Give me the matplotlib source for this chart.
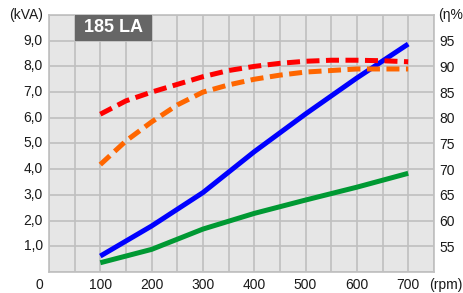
import matplotlib
matplotlib.use("Agg")
import matplotlib.pyplot as plt
from matplotlib.patches import Rectangle

# Data
rpm = [100, 200, 300, 400, 500, 600, 700]
kva_blue = [0.62, 1.79, 3.09, 4.68, 6.15, 7.55, 8.87]
kva_green = [0.36, 0.88, 1.67, 2.28, 2.80, 3.30, 3.84]

rpm_eff = [100, 150, 200, 250, 300, 350, 400, 450, 500, 550, 600, 650, 700]
eff_red = [80.7, 83.3, 85.0, 86.5, 88.0, 89.2, 90.0, 90.6, 91.0, 91.2, 91.2, 91.1, 90.9]
eff_orange = [70.9, 75.5, 79.2, 82.5, 85.0, 86.4, 87.5, 88.3, 88.9, 89.2, 89.5, 89.5, 89.5]

x_ticks = [100, 200, 300, 400, 500, 600, 700]
y_ticks = [1, 2, 3, 4, 5, 6, 7, 8, 9]
y_labels = ["1,0", "2,0", "3,0", "4,0", "5,0", "6,0", "7,0", "8,0", "9,0"]
eff_ticks = [55, 60, 65, 70, 75, 80, 85, 90, 95]

plt.rcParams['font.family'] = ['Liberation Sans', 'DejaVu Sans']

fig = plt.figure(figsize=(4.64, 2.93), dpi=100)
ax = fig.add_axes([0.1056, 0.0717, 0.935 - 0.1056, 0.9488 - 0.0717])
ax.set_facecolor('#e6e6e6')
ax.set_xlim(0, 750)
ax.set_ylim(0, 10)
ax.set_xticks(range(0, 751, 50), minor=False)
ax.set_yticks(range(0, 11))
ax.grid(True, color='#bfbfbf', linewidth=1.2)
ax.set_axisbelow(True)
ax.tick_params(length=0, labelbottom=False, labelleft=False)
for s in ax.spines.values():
    s.set_color('#bfbfbf')
    s.set_linewidth(1.2)

txt = '#1a1a1a'
for x in x_ticks:
    ax.text(x, -0.5, str(x), ha='center', va='center', fontsize=10, color=txt)
for y, l in zip(y_ticks, y_labels):
    ax.text(-12, y, l, ha='right', va='center', fontsize=10, color=txt)
ax.text(-19, -0.5, "0", ha='center', va='center', fontsize=10, color=txt)
ax.text(-12, 10.0, "(kVA)", ha='right', va='center', fontsize=10, color=txt)
ax.text(741, -0.5, "(rpm)", ha='left', va='center', fontsize=10, color=txt, clip_on=False)

ax.add_patch(Rectangle((50, 9), 150, 1, facecolor='#666666', edgecolor='none', zorder=3))
ax.text(125, 9.5, "185 LA", ha='center', va='center', fontsize=13, fontweight='bold',
        color='white', zorder=4)

ax.plot(rpm, kva_blue, color='#0000ff', linewidth=3.6, solid_capstyle='butt', zorder=5)
ax.plot(rpm, kva_green, color='#009933', linewidth=3.6, solid_capstyle='butt', zorder=5)

ax2 = ax.twinx()
ax2.set_ylim(50, 100)
ax2.set_yticks(eff_ticks)
ax2.tick_params(length=0, labelsize=10, labelcolor=txt, pad=4)
for s in ax2.spines.values():
    s.set_visible(False)
ax2.text(1.01, 1.0, "(η%", transform=ax2.transAxes, ha='left', va='center', fontsize=10,
         color=txt, clip_on=False)

ax2.plot(rpm_eff, eff_orange, color='#ff6600', linewidth=3.6, dashes=(2.6, 1.3),
         dash_capstyle='butt', zorder=5)
ax2.plot(rpm_eff, eff_red, color='#ff0000', linewidth=3.6, dashes=(2.6, 1.3),
         dash_capstyle='butt', zorder=5)

fig.savefig("out.png", dpi=100)
